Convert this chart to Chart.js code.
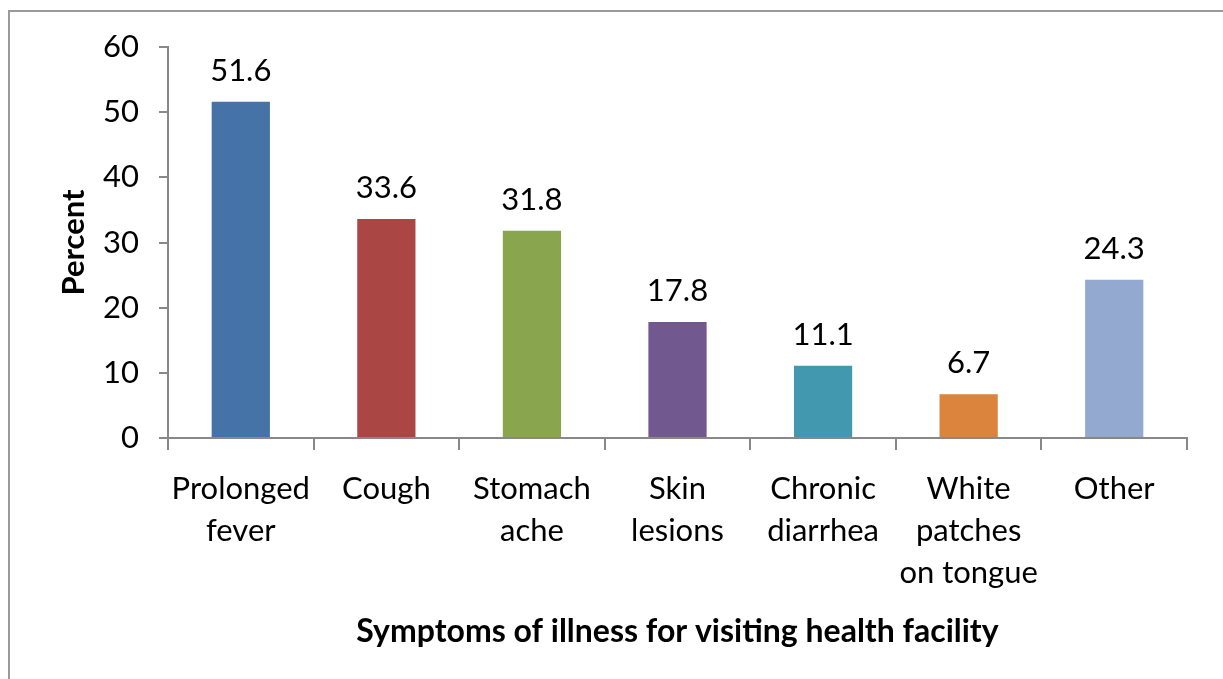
<!DOCTYPE html>
<html>
<head>
<meta charset="utf-8">
<script src="https://cdn.jsdelivr.net/npm/chart.js@4"></script>
<style>
  html, body { margin: 0; padding: 0; background: #fff; overflow: hidden; }
  #wrap { position: relative; width: 1223px; height: 679px; }
  #frame { position: absolute; left: 8px; top: 10px; width: 1300px; height: 800px; border: 2px solid #9a9a9a; box-sizing: border-box; }
  canvas { position: absolute; left: 0; top: 0; }
</style>
</head>
<body>
<div id="wrap">
  <div id="frame"></div>
  <canvas id="chart" width="1223" height="679"></canvas>
</div>
<script>
const categories = [
  ['Prolonged', 'fever'],
  ['Cough'],
  ['Stomach', 'ache'],
  ['Skin', 'lesions'],
  ['Chronic', 'diarrhea'],
  ['White', 'patches', 'on tongue'],
  ['Other']
];
const percentValues = [51.6, 33.6, 31.8, 17.8, 11.1, 6.7, 24.3];
const barColors = ['#4572A7', '#AA4643', '#89A54E', '#71588F', '#4198AF', '#DB843D', '#93A9CF'];
const yTicks = [0, 10, 20, 30, 40, 50, 60];

const FONT = 'Lato, "Open Sans", sans-serif';

// value labels above every bar
const valueLabels = {
  id: 'valueLabels',
  afterDatasetsDraw(chart) {
    const ctx = chart.ctx;
    const meta = chart.getDatasetMeta(0);
    ctx.save();
    ctx.font = '31px ' + FONT;
    ctx.fillStyle = '#000';
    ctx.textAlign = 'center';
    ctx.textBaseline = 'alphabetic';
    meta.data.forEach((bar, i) => {
      ctx.fillText(percentValues[i].toFixed(1), bar.x, bar.y - 21);
    });
    ctx.restore();
  }
};

// eslint-disable-next-line no-new
new Chart(document.getElementById('chart'), {
  type: 'bar',
  data: {
    labels: categories,
    datasets: [{
      data: percentValues,
      backgroundColor: barColors,
      borderWidth: 0,
      categoryPercentage: 1,
      barPercentage: 0.4
    }]
  },
  options: {
    responsive: false,
    animation: false,
    layout: { padding: { top: 47, right: 36, left: 0, bottom: 0 } },
    plugins: {
      legend: { display: false },
      tooltip: { enabled: false }
    },
    scales: {
      x: {
        offset: true,
        afterFit: (scale) => { scale.height = 241; },
        grid: {
          offset: true,
          drawOnChartArea: false,
          tickLength: 12,
          color: '#888',
          lineWidth: 2
        },
        border: { color: '#888', width: 2 },
        ticks: {
          color: '#000',
          padding: 18,
          maxRotation: 0,
          autoSkip: false,
          font: { family: FONT, size: 31, lineHeight: 1.36 }
        },
        title: {
          display: true,
          text: 'Symptoms of illness for visiting health facility',
          color: '#000',
          font: { family: FONT, size: 32, weight: 'bold' },
          padding: { top: 0, bottom: 28 }
        }
      },
      y: {
        min: 0,
        max: 60,
        afterFit: (scale) => { scale.width = 168; },
        afterBuildTicks: (scale) => { scale.ticks = yTicks.map(v => ({ value: v })); },
        grid: {
          drawOnChartArea: false,
          tickLength: 9,
          color: '#888',
          lineWidth: 2
        },
        border: { color: '#888', width: 2 },
        ticks: {
          color: '#000',
          padding: 20,
          font: { family: FONT, size: 31 }
        },
        title: {
          display: true,
          text: 'Percent',
          color: '#000',
          font: { family: FONT, size: 31, weight: 'bold' },
          padding: { top: 55, bottom: 0 }
        }
      }
    }
  },
  plugins: [valueLabels]
});
</script>
</body>
</html>
